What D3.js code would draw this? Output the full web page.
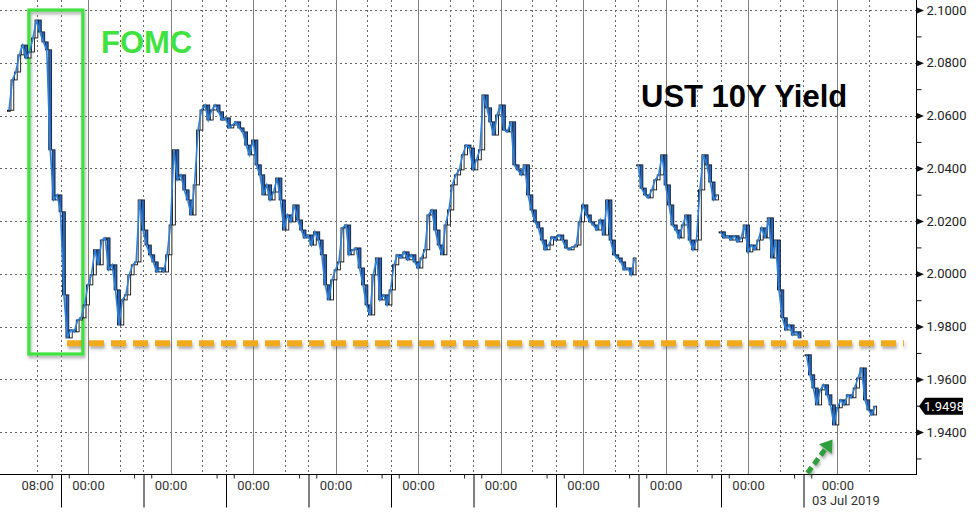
<!DOCTYPE html>
<html><head><meta charset="utf-8">
<script src="https://cdn.jsdelivr.net/npm/d3@7"></script>
<style>
html,body{margin:0;padding:0;background:#fff;}
svg{display:block;}
.axis text{font-family:Roboto,"Liberation Sans",Arial,sans-serif;font-size:13px;}
</style></head><body>
<svg id="chart" width="976" height="513"></svg>
<script>
// ---------------- data ----------------
// hour index of first bar in each trading session
const sessionStarts = [1, 184, 208, 233];
const session1 = [
2.0620,2.0735,2.0765,2.0830,2.0867,2.0818,2.0841,2.0894,2.0962,2.0917,2.0879,2.0849,
2.0470,2.0280,2.0299,2.0235,1.9920,1.9757,1.9787,1.9780,1.9825,1.9833,1.9882,1.9958,
1.9996,2.0091,2.0034,2.0128,2.0136,2.0015,2.0034,1.9939,1.9806,1.9901,1.9920,1.9996,
2.0034,2.0045,2.0280,2.0166,2.0109,2.0072,2.0045,2.0007,2.0022,2.0007,2.0072,2.0185,
2.0470,2.0356,2.0375,2.0318,2.0280,2.0223,2.0337,2.0545,2.0621,2.0640,2.0583,2.0621,
2.0640,2.0614,2.0583,2.0591,2.0553,
2.0564,2.0576,2.0553,2.0538,2.0488,2.0451,2.0507,2.0413,2.0375,2.0299,
2.0337,2.0280,2.0310,2.0363,2.0280,2.0166,2.0223,2.0197,2.0261,2.0204,
2.0166,2.0136,2.0147,2.0109,2.0159,2.0128,2.0072,1.9958,1.9901,1.9977,
2.0015,2.0045,2.0174,2.0185,2.0072,2.0091,2.0098,2.0022,1.9958,1.9882,
1.9844,1.9996,2.0060,1.9901,1.9920,1.9882,1.9939,2.0034,2.0072,2.0060,
2.0083,2.0053,2.0072,2.0045,2.0022,2.0060,2.0091,2.0223,2.0242,2.0166,
2.0109,2.0072,2.0185,2.0242,2.0337,2.0375,2.0394,
2.0451,2.0488,2.0477,2.0394,2.0432,2.0470,2.0678,2.0629,2.0576,2.0526,
2.0602,2.0640,2.0545,2.0538,2.0576,2.0413,2.0394,2.0375,2.0413,2.0299,
2.0242,2.0197,2.0174,2.0128,2.0091,2.0109,2.0140,2.0128,2.0147,2.0128,
2.0098,2.0091,2.0102,2.0109,2.0197,2.0261,2.0223,2.0197,2.0185,2.0166,
2.0204,2.0147,2.0280,2.0128,2.0072,2.0060,2.0045,2.0015,2.0022,1.9996,
2.0060];
const session2 = [2.0413,2.0325,2.0299,2.0288,2.0318,2.0356,2.0375,2.0451,2.0337,2.0261,2.0185,2.0166,
2.0136,2.0185,2.0223,2.0128,2.0091,2.0128,2.0318,2.0451,2.0413,2.0348,2.0280,2.0299];
const session3 = [2.0159,2.0136,2.0144,2.0128,2.0144,2.0121,2.0136,2.0185,2.0083,2.0109,2.0091,2.0128,
2.0174,2.0136,2.0212,2.0060,2.0128,1.9939,1.9833,1.9787,1.9806,1.9768,1.9780,1.9757];
const session4 = [1.9693,1.9617,1.9567,1.9503,1.9560,1.9579,1.9541,1.9503,1.9427,1.9492,1.9522,1.9503,
1.9541,1.9530,1.9567,1.9605,1.9643,1.9522,1.9484,1.9465,1.9498];
const sessions = [session1, session2, session3, session4];

const yTicks = [1.94,1.96,1.98,2.00,2.02,2.04,2.06,2.08,2.10];
const yMinorTicks = [1.93,1.95,1.97,1.99,2.01,2.03,2.05,2.07,2.09];
const midnightHours = [24,48,72,96,120,144,168,192,216,242];
const midnightLabels = ["00:00","00:00","00:00","00:00","00:00","00:00","00:00","00:00","00:00","00:00"];
const morningHours = [9.2,33.2,57.2,81.2,105.2,129.2,153.2,177.2,201.2,225.2,251.2];
const morningLabelHour = 9.2, morningLabel = "08:00";
const sessionBreakHours = [16,40,64,88,112,136,160,184,208,232];
const dateLabelHour = 244.5, dateLabel = "03 Jul 2019";
const lastValue = 1.9498;
const supportLevel = 1.9737, supportFrom = 17.9, supportTo = 261.4;
const fomcHours = [6.8, 22.5], fomcValues = [1.9696, 2.1];
const arrowTail = [233.3, 1.9245], arrowTip = [240.6, 1.9372];
const titleText = "UST 10Y Yield", fomcText = "FOMC";

// ---------------- chart ----------------
const svg = d3.select("#chart");
const W = 916, H = 474;
const x = d3.scaleLinear().domain([-1.6, 264.87]).range([0, W]);
const y = d3.scaleLinear().domain([1.9241, 2.1038]).range([H, 0]);

const defs = svg.append("defs");
const sh = defs.append("filter").attr("id","shadow").attr("filterUnits","userSpaceOnUse")
  .attr("x",0).attr("y",0).attr("width",976).attr("height",513);
sh.append("feDropShadow").attr("dx",1).attr("dy",2.5).attr("stdDeviation",1.5).attr("flood-color","#555").attr("flood-opacity",0.5);

// grid
const grid = svg.append("g");
grid.selectAll(".hg").data(yTicks).join("line")
  .attr("x1",0).attr("x2",W).attr("y1",d=>Math.round(y(d))+0.5).attr("y2",d=>Math.round(y(d))+0.5)
  .attr("stroke","#666").attr("stroke-width",1).attr("stroke-dasharray","2,3");
grid.selectAll(".vd").data(morningHours.concat(sessionBreakHours)).join("line")
  .attr("x1",d=>Math.round(x(d))+0.5).attr("x2",d=>Math.round(x(d))+0.5).attr("y1",0).attr("y2",H)
  .attr("stroke","#666").attr("stroke-width",1).attr("stroke-dasharray","2,3");
grid.selectAll(".vs").data(midnightHours).join("line")
  .attr("x1",d=>Math.round(x(d))+0.5).attr("x2",d=>Math.round(x(d))+0.5).attr("y1",0).attr("y2",H)
  .attr("stroke","#808080").attr("stroke-width",1);

// support dashed line
svg.append("line")
  .attr("x1",x(supportFrom)).attr("x2",x(supportTo)).attr("y1",y(supportLevel)).attr("y2",y(supportLevel))
  .attr("stroke","#f0aa1e").attr("stroke-width",6).attr("stroke-dasharray","15,7")
  .attr("filter","url(#shadow)");

// FOMC box
svg.append("rect")
  .attr("x",x(fomcHours[0])).attr("y",y(fomcValues[1]))
  .attr("width",x(fomcHours[1])-x(fomcHours[0])).attr("height",y(fomcValues[0])-y(fomcValues[1]))
  .attr("fill","none").attr("stroke","#3fe23f").attr("stroke-width",3.2).attr("filter","url(#shadow)");

// candles + line
const plot = svg.append("g");
sessions.forEach((vals, si) => {
  const pts = vals.map((v,i)=>({t: sessionStarts[si]+i, v, o: i>0?vals[i-1]:v}));
  plot.append("g").selectAll("rect").data(pts).join("rect")
    .attr("x",d=>x(d.t)-1.4).attr("width",2.8)
    .attr("y",d=>y(Math.max(d.o,d.v)))
    .attr("height",d=>Math.max(1, Math.abs(y(d.o)-y(d.v))))
    .attr("fill",d=>d.v>=d.o?"#fff":"#2b66b8")
    .attr("stroke",d=>d.v>=d.o?"#111":"#0d1d3a").attr("stroke-width",0.9);
  plot.append("path").datum(pts)
    .attr("d", d3.line().x(d=>x(d.t)).y(d=>y(d.v)))
    .attr("fill","none").attr("stroke","#2f80d8").attr("stroke-width",1.6);
});

// right axis
const ya = svg.append("g").attr("class","axis").attr("transform",`translate(${W+0.5},0)`)
  .call(d3.axisRight(y).tickValues(yTicks).tickSize(0).tickPadding(10).tickFormat(d3.format(".4f")));
ya.select(".domain").attr("stroke","#000").attr("d",`M0,0V${H}`);
ya.selectAll("text").attr("fill","#222");
ya.selectAll(".tick").append("path").attr("d","M0,-3.2L7.5,0L0,3.2Z").attr("fill","#111");
svg.append("g").attr("transform",`translate(${W+0.5},0)`)
  .call(d3.axisRight(y).tickValues(yMinorTicks).tickSize(5).tickFormat(""))
  .call(g=>g.select(".domain").remove())
  .selectAll("line").attr("stroke","#111");

// bottom axis
const xa = svg.append("g").attr("class","axis").attr("transform",`translate(0,${H+0.5})`)
  .call(d3.axisBottom(x).tickValues(midnightHours).tickSize(0).tickPadding(6)
    .tickFormat((d,i)=>midnightLabels[i]));
xa.select(".domain").attr("stroke","#000").attr("d",`M0,0H${W+1}`);
xa.selectAll("text").attr("fill","#333");
svg.append("g").attr("class","axis").attr("transform",`translate(0,${H+0.5})`)
  .call(d3.axisBottom(x).tickValues([morningLabelHour]).tickSize(0).tickPadding(6).tickFormat(()=>morningLabel))
  .call(g=>g.select(".domain").remove())
  .selectAll("text").attr("fill","#333");
svg.append("g").attr("transform",`translate(0,${H+0.5})`)
  .call(d3.axisBottom(x).tickValues(sessionBreakHours).tickSize(33).tickFormat(""))
  .call(g=>g.select(".domain").remove())
  .selectAll("line").attr("stroke","#000").attr("transform","translate(0.5,0)");
svg.append("g").attr("transform",`translate(0,${H+0.5})`)
  .call(d3.axisBottom(x).tickValues(sessionBreakHours.flatMap(h=>[h-2.6,h+2.4])).tickSize(4).tickFormat(""))
  .call(g=>g.select(".domain").remove())
  .selectAll("line").attr("stroke","#222");
svg.append("text").attr("class","axis").attr("x",x(dateLabelHour)).attr("y",H+31)
  .attr("text-anchor","middle").attr("fill","#333")
  .style("font-family","Roboto,'Liberation Sans',Arial,sans-serif").style("font-size","13px").text(dateLabel);

// last value tag
const ly = y(lastValue);
svg.append("path").attr("d",`M${W+3},${ly}L${W+9},${ly-8.5}H${W+47}V${ly+8.5}H${W+9}Z`).attr("fill","#000");
svg.append("text").attr("x",W+28).attr("y",ly+4.7).attr("text-anchor","middle").attr("fill","#fff")
  .style("font-family","Roboto,'Liberation Sans',Arial,sans-serif").style("font-size","13px").text(d3.format(".4f")(lastValue));

// titles
svg.append("text").attr("x",101).attr("y",53).attr("fill","#3fe23f")
  .style("font-family","'Liberation Sans',Arial,sans-serif").style("font-weight","bold").style("font-size","31px")
  .text(fomcText);
svg.append("text").attr("x",641).attr("y",107).attr("fill","#000")
  .style("font-family","'Liberation Sans',Arial,sans-serif").style("font-weight","bold").style("font-size","31px")
  .text(titleText);

// green arrow
const ax0 = x(arrowTail[0]), ay0 = y(arrowTail[1]), ax1 = x(arrowTip[0]), ay1 = y(arrowTip[1]);
const ang = Math.atan2(ay1-ay0, ax1-ax0), hl = 12, hw = 8;
const bx = ax1 - hl*Math.cos(ang), by = ay1 - hl*Math.sin(ang);
const ag = svg.append("g").attr("filter","url(#shadow)");
ag.append("line").attr("x1",ax0).attr("y1",ay0).attr("x2",bx).attr("y2",by)
  .attr("stroke","#2e9e3e").attr("stroke-width",5).attr("stroke-dasharray","7,4");
ag.append("path").attr("d",`M${ax1},${ay1}L${bx+hw*Math.sin(ang)},${by-hw*Math.cos(ang)}L${bx-hw*Math.sin(ang)},${by+hw*Math.cos(ang)}Z`)
  .attr("fill","#2e9e3e");
</script></body></html>
